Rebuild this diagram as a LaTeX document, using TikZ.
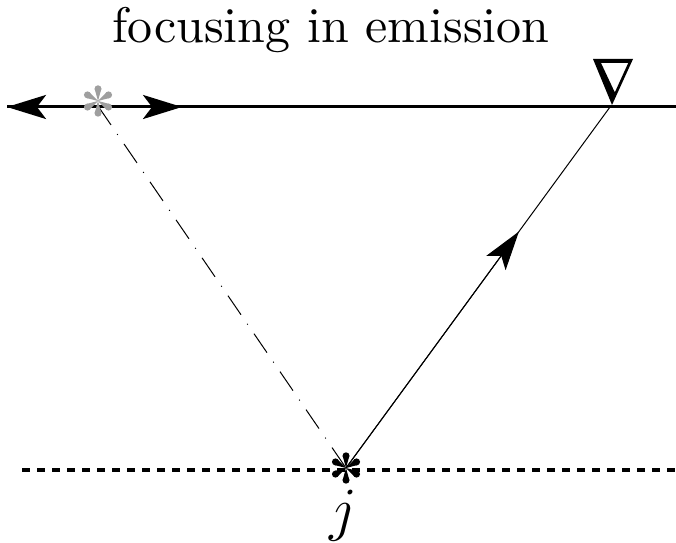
\documentclass[tikz,border=0pt]{standalone}
\usetikzlibrary{arrows.meta,calc}
\begin{document}
\begin{tikzpicture}[x=0.2pt,y=-0.2pt,
  thick line/.style={line width=0.6pt},
  thin ray/.style={line width=0.2pt},
  mark label/.style={inner sep=0pt},
  bigtip/.tip={Stealth[length=7.8pt,width=4.8pt,inset=1.8pt]},
  starmark/.pic={
    \foreach \a in {30,90,150,210,270,330}{
      \fill (0,0) -- ($(\a:12)+(\a+90:3.3)$) -- ($(\a:12)+(\a-90:3.3)$) -- cycle;
      \fill (\a:12.2) circle (3.5);
    }
  }]
\useasboundingbox (0,0) rectangle (676,543);
\node[mark label] (title) at (331,30) {focusing in emission};
% surface line
\coordinate (L) at (7,107);
\coordinate (R) at (676,107);
\coordinate (ra) at (182,107);
\coordinate (rb) at (130,107);
\coordinate (lb) at (60,107);
\draw[thick line] (L) -- (R);
\draw[thick line,{bigtip}-] (L) -- (lb);
\draw[thick line,-{bigtip}] (rb) -- (ra);
% bottom dashed line
\coordinate (BL) at (22,470);
\coordinate (BR) at (676,470);
\draw[line width=0.66pt,dash pattern=on 1.6pt off 1.4pt] (BL) -- (BR);
% points
\coordinate (src) at (346,468);
\coordinate (img) at (98,106);
\coordinate (rec) at (610,107);
% rays
\draw[thin ray,dash pattern=on 4.6pt off 2.2pt on 0.2pt off 2.2pt] (img) -- (src);
\draw[thin ray] (src) -- (rec);
\draw[thin ray,-{bigtip}] (src) -- ($(src)!0.655!(rec)$);
% stars
\pic[gray!75] at (98,101) {starmark};
\pic[black] at (src) {starmark};
% receiver triangle
\fill[even odd rule] (593,59) -- (633,59) -- (612,105) -- cycle
  (601,63) -- (628.2,63) -- (614.8,92.4) -- cycle;
\node[mark label] (j) at (343,516) {\large$j$};
\end{tikzpicture}
\end{document}
